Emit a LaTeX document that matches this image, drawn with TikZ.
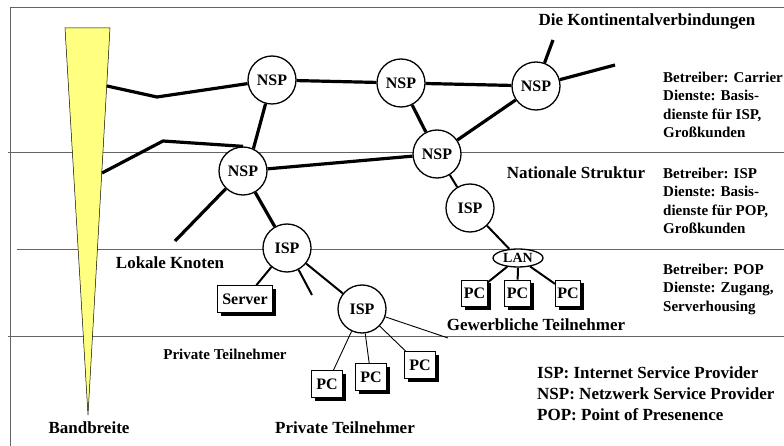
\documentclass[tikz,border=0pt]{standalone}
\usepackage{fontspec}
\setmainfont{Liberation Serif}
\usetikzlibrary{shapes.geometric,shadows}
\definecolor{bwyellow}{RGB}{255,255,128}
\definecolor{rulegray}{RGB}{100,100,100}

\begin{document}
\begin{tikzpicture}[x=1pt,y=-1pt,
    hub/.style={draw,circle,fill=white,line width=1.3pt,minimum size=48pt,inner sep=0pt,
      font=\fontsize{16}{19}\selectfont\bfseries},
    pc/.style={draw,fill=white,line width=0.7pt,inner xsep=5pt,minimum height=27pt,
      font=\fontsize{16}{19}\selectfont\bfseries,
      drop shadow={shadow xshift=3.5pt,shadow yshift=-3.5pt,fill=black,opacity=1}},
    bb/.style={line width=3.2pt,line join=round},
    md/.style={line width=2pt},
    tn/.style={line width=0.9pt},
    zone/.style={rulegray,line width=0.8pt},
    lbl/.style={font=\fontsize{17}{21}\selectfont\bfseries},
    side/.style={font=\fontsize{15}{18.5}\selectfont\bfseries,align=left,anchor=west,inner sep=0pt}]
  \useasboundingbox (0,0) rectangle (784,446);
  % frame and zones
  \draw[zone] (10,446) -- (10,7) -- (784,7);
  \draw[zone] (8,152) -- (784,152);
  \draw[zone] (17,249) -- (784,249);
  \draw[zone] (8,336) -- (784,336);

  % Bandbreite
  \draw[fill=bwyellow,line width=0.5pt] (65,28) -- (110,28) -- (88,415) -- cycle;
  \node[lbl] (bw) at (89,428) {Bandbreite};
  \coordinate (bw1) at (107,86);
  \coordinate (bw2) at (102,173);

  \node[hub] (nsp1) at (272,80) {NSP};
  \node[hub] (nsp2) at (401,83) {NSP};
  \node[hub] (nsp3) at (536,86) {NSP};
  \node[hub] (nsp4) at (437,154) {NSP};
  \node[hub] (nsp5) at (243,171) {NSP};
  \node[hub] (isp1) at (470,208) {ISP};
  \node[hub] (isp2) at (287,248) {ISP};
  \node[hub] (isp3) at (362,309) {ISP};
  \node[draw,ellipse,fill=white,line width=1.3pt,minimum width=50pt,minimum height=18pt,
    inner sep=0pt,font=\fontsize{14}{16}\selectfont\bfseries] (lan) at (518,258) {LAN};
  \node[pc] (srv) at (245,299) {Server};

  \coordinate (k1) at (157,97);
  \coordinate (k2) at (163,141);
  \coordinate (k3) at (448,84);
  \coordinate (s1) at (553,40);
  \coordinate (s2) at (615,65);
  \coordinate (s3) at (175,241);
  \coordinate (s4) at (312,295);
  \coordinate (s5) at (448,338);

  % backbone
  \draw[bb] (bw1) -- (k1) -- (nsp1);
  \draw[bb] (bw2) -- (k2) -- (nsp5.north);
  \draw[bb] (nsp1) -- (nsp2);
  \draw[bb] (nsp1) -- (nsp5.65);
  \draw[bb] (nsp2) -- (k3) -- (nsp3);
  \draw[bb] (nsp2) -- (nsp4);
  \draw[bb] (nsp3) -- (nsp4);
  \draw[bb] (nsp3) -- (s1);
  \draw[bb] (nsp3) -- (s2);
  \draw[bb] (nsp5) -- (nsp4);
  \draw[bb] (nsp5) -- (s3);
  \draw[bb] (nsp5) -- (isp2);

  \draw[md] (nsp4) -- (isp1);
  \draw[md] (isp1) -- (lan);
  \draw[md] (isp2) -- (isp3);
  \draw[md] (isp2) -- (srv);
  \draw[md] (isp2) -- (s4);
  \foreach \x/\i in {474.5/1,517.5/2,568/3}{
    \node[pc,inner xsep=2pt,minimum height=26pt] (lp\i) at (\x,293) {PC};
    \draw[md] (lan) -- (lp\i);}
  \foreach \x/\y/\i in {327/384/1,371/377/2,420/365/3}{
    \node[pc] (pp\i) at (\x,\y) {PC};
    \draw[tn] (isp3) -- (pp\i);}
  \draw[tn] (isp3) -- (s5);

  % labels
  \node[lbl] (tkont) at (647,21) {Die Kontinentalverbindungen};
  \node[lbl] (tnat) at (576,173) {Nationale Struktur};
  \node[lbl] (tlok) at (170,263) {Lokale Knoten};
  \node[lbl] (tgew) at (536,325) {Gewerbliche Teilnehmer};
  \node[font=\fontsize{15}{18}\selectfont\bfseries] (tpriv1) at (225,354) {Private Teilnehmer};
  \node[lbl] (tpriv2) at (345,428) {Private Teilnehmer};

  \node[side] (carrier) at (663,105) {Betreiber: Carrier\\Dienste: Basis-\\dienste für ISP,\\Großkunden};
  \node[side] (ispinfo) at (663,201) {Betreiber: ISP\\Dienste: Basis-\\dienste für POP,\\Großkunden};
  \node[side] (popinfo) at (663,289) {Betreiber: POP\\Dienste: Zugang,\\Serverhousing};
  \node[side,font=\fontsize{17}{21}\selectfont\bfseries] (legend) at (537,394)
    {ISP: Internet Service Provider\\NSP: Netzwerk Service Provider\\POP: Point of Presenence};
\end{tikzpicture}
\end{document}
